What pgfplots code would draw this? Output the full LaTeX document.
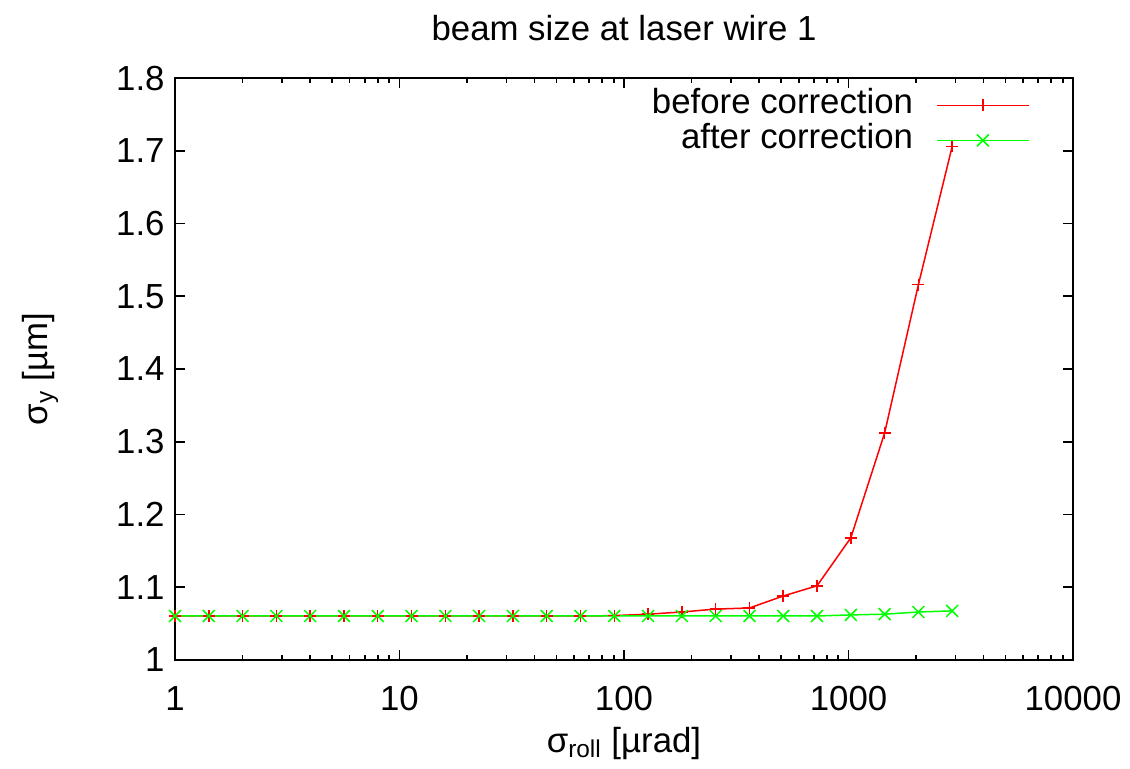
\documentclass[border=0pt]{standalone}
\usepackage{fontspec}
\setmainfont{Liberation Sans}
\usepackage{pgfplots}
\pgfplotsset{compat=1.18}

% 1 px of the reference = 0.5pt; axis box spans (0,0)--(449pt,291pt)
\pgfplotstableread{
x        before  after
1        1.0605  1.0605
1.4142   1.0605  1.0605
2        1.0605  1.0605
2.8284   1.0605  1.0605
4        1.0605  1.0605
5.6569   1.0605  1.0605
8        1.0605  1.0605
11.314   1.0605  1.0605
16       1.0605  1.0605
22.627   1.0605  1.0605
32       1.0605  1.0605
45.255   1.0605  1.0605
64       1.0605  1.0605
90.51    1.0610  1.0605
128      1.0630  1.0605
181.02   1.0660  1.0605
256      1.0700  1.0605
362.04   1.0715  1.0605
512      1.0880  1.0605
724.08   1.1020  1.0605
1024     1.1680  1.0620
1448.2   1.3120  1.0630
2048     1.5160  1.0660
2896.3   1.7060  1.0675
}\rolldata

\begin{document}
\fontsize{17.4pt}{20pt}\selectfont
\begin{tikzpicture}
\useasboundingbox (-87.5pt,-54pt) rectangle (477.5pt,330pt);
\begin{axis}[
  at={(0pt,0pt)}, anchor=south west,
  scale only axis,
  width=449pt, height=291pt,
  xmode=log,
  xmin=1, xmax=10000,
  ymin=1, ymax=1.8,
  xtick={1,10,100,1000,10000},
  xticklabels={1,10,100,1000,10000},
  ytick={1,1.1,1.2,1.3,1.4,1.5,1.6,1.7,1.8},
  yticklabels={1,1.1,1.2,1.3,1.4,1.5,1.6,1.7,1.8},
  tick align=inside,
  xtick pos=both, ytick pos=both,
  major tick length=5pt,
  minor tick length=2.5pt,
  every tick/.style={black, line width=0.8pt},
  axis line style={line width=1pt},
  /pgf/number format/assume math mode=true,
  xticklabel style={anchor=base, inner sep=0pt, yshift=-25pt},
  yticklabel style={anchor=east, inner sep=0pt, xshift=-5pt},
  legend plot pos=right,
  legend cell align=right,
  legend style={draw=none, fill=none, at={(1,1)}, anchor=north east,
    xshift=-21.5pt, yshift=-6.5pt, inner sep=0pt, row sep=3.5pt, column sep=11.5pt,
    nodes={inner sep=0pt, text height=11pt, text depth=3pt}},
  legend image code/.code={
    \draw[mark repeat=2, mark phase=2, #1] plot coordinates {(0pt,0pt) (23pt,0pt) (46pt,0pt)};
  },
  clip=false,
]
\addplot[red, line width=0.75pt, mark=+, mark size=3pt] table[x=x, y=before] {\rolldata};
\addlegendentry{before correction}
\addplot[green, line width=0.75pt, mark=x, mark size=4.2pt] table[x=x, y=after] {\rolldata};
\addlegendentry{after correction}
\end{axis}
\node[anchor=base] at (224.5pt,310pt) {beam size at laser wire 1};
\node[anchor=base] at (224.5pt,-46pt) {σ\textsubscript{roll} [µrad]};
\node[anchor=base, rotate=90] at (-63.5pt,145.5pt) {σ\textsubscript{y} [µm]};
\end{tikzpicture}
\end{document}
